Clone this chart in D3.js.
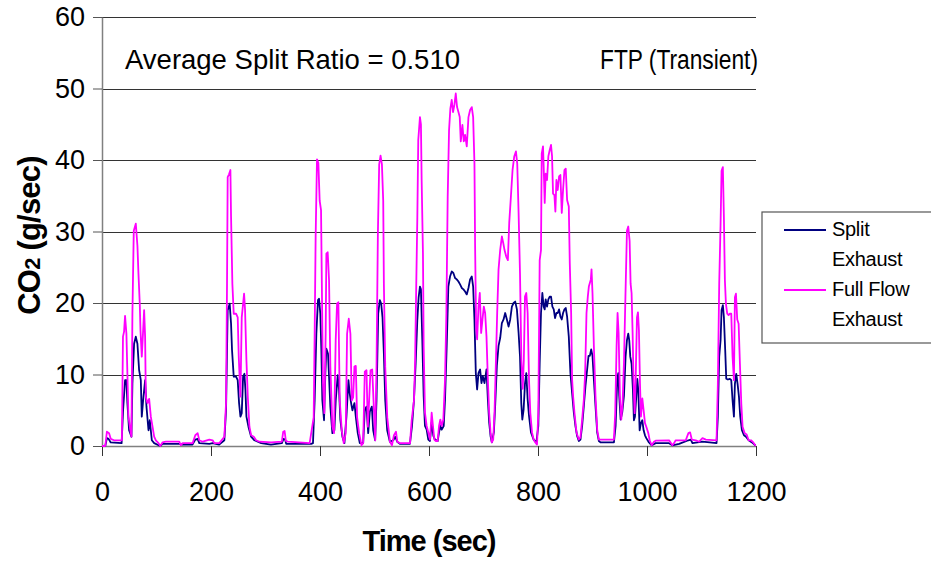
<!DOCTYPE html>
<html>
<head>
<meta charset="utf-8">
<script src="https://cdn.jsdelivr.net/npm/d3@7"></script>
<style>
  body { margin: 0; background: #fff; }
  svg { display: block; font-family: "Liberation Sans", Arial, sans-serif; }
</style>
</head>
<body>
<svg id="chart" width="931" height="562"></svg>
<script>
// Time (sec), CO2 (g/sec)
const splitExhaust = [
  [0,0],[6,0],[9,1.1],[12,1.0],[16,0.5],[36,0.4],[38.7,5.0],[42.3,9.2],[44.8,9.2],[46.6,6.0],
  [49.7,2.2],[54,1.3],[55.8,8.7],[58.9,14.3],[62,15.3],[65,14.3],[68.1,10.6],[71.2,9.2],[73,4.1],
  [75.5,6.4],[79.1,9.2],[81.6,5.5],[85.3,2.2],[87.7,3.6],[91.4,0.8],[95.7,0.4],[106.8,0],[111,0.3],
  [141.7,0.3],[147.9,0.2],[166,0.2],[171.2,0.9],[175.5,1.0],[178.5,0.4],[197,0.3],[203,0.4],[215,0.2],
  [224.5,0.8],[227.6,5],[230.6,19],[234.3,19.9],[236.8,17.1],[238.6,13.4],[241.7,9.7],[246,9.7],
  [249,9.2],[251.5,6],[254,4.1],[256.4,4.6],[258.9,9.7],[261.3,10.1],[263.2,7.8],[265,4.1],[268.7,2.7],
  [273.6,1.3],[279.7,0.8],[292,0.4],[310,0.2],[330,0.4],[333,1.0],[336,0.9],[338,0.3],[384,0.3],
  [387.1,0.4],[390.2,6.4],[393.3,15.7],[396.3,20.4],[398.2,20.6],[400.6,18.5],[402.5,13.4],[404.3,6.4],
  [407.4,3.6],[409.8,10.1],[411.7,13.6],[414.7,12.9],[416.6,9.7],[419,5.5],[422.7,1.8],[426.4,2.2],
  [428.9,6.4],[432.5,9.9],[435,7.8],[437.4,3.6],[441.1,1.3],[444.8,0.4],[448.5,4.1],[452.2,9.2],
  [454.6,7.3],[457.1,6.0],[459.5,5.0],[463.2,6.0],[465.7,4.1],[469.3,1.8],[473,0.4],[479.2,0.4],
  [482.2,5.0],[485.3,5.5],[488.4,1.8],[491.4,4.8],[495.1,5.5],[497.6,2.2],[501.2,0.8],[503.7,6.4],
  [506.8,18.5],[509.8,20.4],[512.3,19.9],[514.7,18],[517.2,12.9],[519.7,6.4],[523.3,2.2],[528.2,0.6],
  [534.4,0.8],[538,1.3],[541.7,0.6],[546.6,0.3],[565,0.3],[568.7,2.7],[572.4,6.4],[575.5,11.5],
  [578.5,17.5],[581,20.8],[583.4,22.3],[585.2,21.9],[587.7,14.9],[590.2,7],[592.6,2.8],[595.7,2.3],
  [598.7,0.9],[601.8,0.7],[604.9,3.3],[608,1.4],[611,0.9],[615.9,0.7],[618.4,1.9],[620.8,2.8],
  [623.3,2.3],[627,2.8],[629.4,6.5],[632.5,14],[635.5,22.3],[638.6,23.7],[641.7,24.4],[644.7,24.2],
  [647.8,23.5],[650.9,23.3],[654,23],[657,22.6],[660.1,22.1],[663.2,21.9],[666.2,21.6],[669.3,21.2],
  [672.4,22.1],[675.4,23.3],[678.5,23.7],[681,22.3],[683.4,17.7],[685.9,10.2],[688.3,7.9],[690.8,10.2],
  [693.8,10.7],[696.3,8.8],[698.7,9.8],[701.8,8.8],[705.5,10.7],[708,6.5],[710.4,3.3],[712.9,1.4],
  [715.3,0.5],[719,1.9],[721.4,5.6],[724.5,11.2],[727.6,14],[730.6,15.1],[733.7,17.2],[736.8,17.7],
  [739.8,18.6],[742.9,17.7],[746,16.7],[749,17.7],[752.1,19.5],[755.2,20],[758.2,20.2],[761.3,19.1],
  [764.4,15.8],[767,12.5],[769.3,6],[771.2,3.7],[773.6,5.1],[776.1,8.7],[778.5,10.2],[781,6.5],
  [783.5,4.2],[787.1,1.9],[792,0.9],[797,0.5],[800.6,2.8],[803.1,11.6],[805.5,18.6],[808,21.4],
  [810.4,19.5],[812.3,19.1],[814.1,20.5],[816.6,19.5],[819,20.5],[821.5,20.9],[823.9,20.9],[826.4,19.5],
  [828.9,19.1],[831.3,17.9],[833.8,18.6],[836.2,18.6],[838.7,19.1],[841.1,18.1],[843.6,17.7],[846,18.6],
  [848.5,19.1],[850.9,19.3],[853.4,18.1],[856.5,15.3],[859.5,10.2],[862.6,7.4],[865.7,4.7],[868.7,2.8],
  [871.8,1.4],[874.9,0.7],[877.9,0.9],[881,2.8],[884.1,5.6],[887.1,8.4],[890.2,10.7],[892.7,12.6],
  [895.1,12.6],[897.6,13.5],[900,12.6],[902.5,9.3],[905.5,5.6],[908.6,1.9],[911.7,0.7],[914.7,0.5],
  [939.3,0.5],[942.4,2.8],[945.4,9.3],[947.3,10.2],[949.1,7],[951.6,3.7],[954.6,4.7],[957.7,7],
  [960.7,12.5],[963.2,14.8],[965.6,15.7],[967.4,14.8],[969.3,12.5],[971.7,11.5],[974.2,7.8],[976,3.6],
  [977.9,4.1],[980.3,6.9],[982.2,9.4],[984,7.8],[986.5,2.2],[988.9,3.2],[991.4,3.6],[993.8,2.2],
  [996.3,1.5],[998.7,1.1],[1003.6,0.5],[1008.6,0.1],[1015.9,0.4],[1040.5,0.4],[1046.6,0.1],[1058.9,0.3],
  [1076,0.8],[1080.3,0.9],[1083.4,0.4],[1101.8,0.6],[1127.6,0.4],[1130,4.1],[1132.5,12.5],[1135,14.8],
  [1136.8,19],[1139.2,19.7],[1141.1,18],[1143.5,13.4],[1145.4,9.4],[1148.4,9.3],[1152.1,9.4],[1154.6,9.2],
  [1157,6.4],[1159.5,4.1],[1161.3,8.7],[1163.8,10.1],[1166.2,8.7],[1168.7,6.9],[1171.1,4.1],[1174.2,2.2],
  [1177.9,1.5],[1181.6,1.3],[1186.5,0.8],[1192.6,0.5],[1198.7,0.1],[1200,0.1]
];

const fullFlowExhaust = [
  [0,0],[6,0],[9,2.0],[13,1.8],[16,1.0],[22,0.8],[36.5,0.8],[38.5,15.3],[40.5,16],[42.3,18.2],
  [44.8,15.7],[48.5,4.1],[52.8,1.8],[54,1.3],[55.8,18.5],[58.3,30.1],[62,31.1],[65,28],[66.9,24.1],
  [69.3,19.9],[70.6,16.2],[73,12.5],[75.5,16.2],[77.3,19],[79.1,15.3],[80.4,6.9],[83.4,6],[86.5,6.6],
  [89.6,4.1],[92.7,2.7],[95.7,1.3],[98.8,0.8],[103.7,0.4],[106.8,0],[111,0.5],[117.2,0.6],[141.7,0.6],
  [144.8,0.1],[147.9,0.4],[166.3,0.4],[171.2,1.5],[175.5,1.8],[178.5,0.8],[184.7,0.6],[196.9,0.9],
  [203,0.8],[206,0.4],[215.3,0.4],[224.5,1.3],[227.6,6],[229.4,22.7],[230.6,37.6],[233.1,38],
  [235.6,38.6],[236.8,32.1],[239.2,22.7],[241.7,18.5],[246,18.5],[249,18.0],[250.9,12.5],[254,6.9],
  [256.4,18.0],[258.9,19.9],[260.7,21.3],[262.5,19],[265,12],[267.5,6.9],[270.5,2.7],[273.6,1.5],
  [278.5,1.3],[282.8,0.8],[288.9,0.6],[310.4,0.5],[330,0.6],[332.5,2.0],[335,2.1],[337.4,0.7],
  [341,0.6],[381,0.4],[388.4,4.0],[390.2,15.7],[392,29.2],[394.5,40.1],[397,39.6],[399.4,34.3],
  [401.9,33.0],[403.7,20.4],[405.5,8.7],[408,4.6],[410.4,15.7],[411.7,26.9],[414.1,27.1],[416.6,23.2],
  [419,11.1],[422.7,2.7],[425.7,1.8],[428.8,14.8],[431.3,19.9],[433.7,20.1],[436.2,6.4],[439.9,2.2],
  [443.6,0.4],[447.2,1.8],[449.7,15.7],[452.8,17.8],[455.8,15.7],[458.3,6.4],[460.8,6.8],[463.2,11.1],
  [465.7,11.2],[468.1,4.0],[471.8,1.8],[476.1,0.1],[479.2,0.4],[482.2,10.4],[485.3,10.6],[487.8,2.7],
  [490.2,6.4],[492.7,10.6],[495.8,10.7],[498.2,6.4],[501.3,0.8],[503.7,11.1],[506.2,29.7],[508.6,39.4],
  [511.1,40.6],[513.6,39.4],[516,34.3],[517.2,22.7],[519.7,11.1],[523.4,4.0],[528.3,0.6],[532,0.1],
  [535.7,1.5],[539.4,2.0],[541.8,0.6],[546.7,0.4],[565.2,0.4],[568.2,3.6],[572.5,6.4],[574.5,12],
  [576.5,22],[578.6,32],[580.3,42.8],[583.4,46],[585.2,45],[586.5,37.2],[588.9,27],[590.2,14],
  [592.6,4.65],[595.7,2.8],[598.7,1.9],[601.8,0.9],[604.9,4.65],[607.3,2.8],[609.8,0.9],[612.2,0.7],
  [615.9,0.7],[618.4,2.8],[620.8,3.7],[623.3,2.8],[626.3,3.7],[629.4,9.3],[631.9,18.6],[634.3,34.9],
  [636.8,44.2],[639.2,47.2],[641.7,48.4],[644.1,46.7],[646.6,47.7],[649.1,49.3],[651.5,47.4],[654,46.7],
  [656.4,46],[658.3,42.6],[661.3,44.9],[663.8,42.6],[666.2,43.5],[669.3,41.9],[672.4,46],[675.4,47],
  [678.5,47.4],[681,46],[683.4,39.5],[684.6,27.9],[686.5,16.3],[688.3,14.9],[690.8,19.5],[693.2,21.4],
  [695.7,15.8],[698.1,17.7],[700.6,19.5],[703,18.6],[705.5,15.3],[708,9.3],[710.4,4.65],[712.9,1.9],
  [715.3,0.5],[717.8,0.9],[720.2,4.65],[722.7,11.6],[725.1,18.6],[727.6,24.7],[730.6,27.4],[733.7,29.3],
  [736.2,28.4],[738.6,27.4],[741.7,26.5],[744.7,26],[747.2,31.2],[750.3,34.9],[753.3,38.6],[756.4,40.5],
  [759.5,41.2],[761.9,39.5],[764.4,32.6],[767,24],[769.5,12],[772,8],[774,12],[776.1,20.9],[778.5,21.4],
  [781,18.6],[783.5,9.3],[785.9,4.65],[789,1.9],[792,0.9],[795.1,0.5],[798.2,0.2],[800.6,4.65],
  [803.1,26],[805.5,27.4],[806.8,40.9],[809.2,41.9],[810.4,39.1],[812.3,34],[814.1,38.1],[816.6,37.2],
  [819,40.5],[821.5,41.4],[823.9,42.1],[825.8,40.5],[827.6,35.3],[830.1,35.1],[831.9,32.8],[833.8,37.2],
  [836.2,35.8],[838.7,37.7],[841.1,37.9],[843.6,32.6],[846,35.8],[848.5,38.6],[850.9,38.8],[853.4,34.4],
  [856.5,33.5],[858.3,25.6],[860.8,18.6],[862.6,9.3],[864.4,7],[866.9,4.65],[870.6,1.9],[874.9,0.9],
  [877.9,1.2],[881,3.7],[884.1,6.5],[886.5,10.2],[889,18.6],[891.4,20.9],[893.3,22.3],[895.1,22.8],
  [897,23.3],[898.2,24.7],[900,21.4],[902.5,14],[905.5,7],[908.6,2.3],[911.7,0.9],[939.3,0.9],
  [941.7,4.65],[944.2,14],[946,18.6],[947.9,15.8],[950.3,7],[952.8,3.7],[955.2,6],[957.7,11.6],
  [960.4,20.8],[963.2,30.1],[965.6,30.7],[968.1,28.7],[969.9,22.7],[971.7,21.4],[973.6,15.8],[975.4,8.8],
  [977.3,4.6],[979.1,8.8],[981.6,18],[983.4,18.7],[985.2,16.2],[987.1,8.8],[988.9,4.1],[991.4,6.65],
  [993.8,5],[996.3,3.2],[998.7,2.7],[1002.4,1.8],[1004.9,0.8],[1008.6,0.1],[1012.8,0.6],[1015.9,0.75],
  [1040.5,0.8],[1046.6,0.1],[1049.7,0.4],[1052.7,0.8],[1071.1,0.8],[1076,1.8],[1079.1,1.9],[1082.2,0.9],
  [1089.5,0.8],[1095.7,0.6],[1101.8,1.1],[1108,0.9],[1127.6,0.8],[1130,8.7],[1132.5,22.7],[1135,31],
  [1136.8,38.5],[1139.2,39],[1141.1,32],[1142.9,23.2],[1144.8,19.9],[1147.2,18.5],[1149.7,18.3],
  [1152.1,18.5],[1154.6,18.5],[1157,12.5],[1159.5,9.2],[1161.3,20.8],[1163.2,21.3],[1165.6,17.7],
  [1168.1,17.1],[1170.5,11.5],[1173,5.95],[1175.4,2.7],[1179.1,1.8],[1182.8,1.6],[1186.5,0.8],
  [1190.8,0.8],[1195,0.5],[1198.7,0.1],[1200,0.1]
];

const xTicks = [0, 200, 400, 600, 800, 1000, 1200];
const yTicks = [0, 10, 20, 30, 40, 50, 60];
const seriesNames = ["Split\nExhaust", "Full Flow\nExhaust"];
const seriesColors = ["#000080", "#ff00ff"];

// Plot Area
const plotLeft = 102, plotRight = 756, plotTop = 17, plotBottom = 446;
const svg = d3.select("#chart");

const x = d3.scaleLinear().domain([0, 1200]).range([plotLeft, plotRight]);
const y = d3.scaleLinear().domain([0, 60]).range([plotBottom, plotTop]);

// Horizontal gridlines
svg.append("g")
  .attr("transform", `translate(${plotLeft},0)`)
  .call(d3.axisLeft(y).tickValues(yTicks).tickSize(-(plotRight - plotLeft)).tickFormat(""))
  .call((g) => g.select(".domain").remove())
  .call((g) => g.selectAll(".tick line").attr("stroke", "#333").attr("shape-rendering", "crispEdges"));

// Y axis
const yAxis = svg.append("g")
  .attr("transform", `translate(${plotLeft},0)`)
  .call(d3.axisLeft(y).tickValues(yTicks).tickSize(9).tickPadding(8).tickSizeOuter(0));
yAxis.select(".domain").attr("stroke", "#808080").attr("stroke-width", 1.5);
yAxis.selectAll(".tick line").attr("stroke", "#555");
yAxis.selectAll("text").attr("font-size", 27).attr("fill", "#000")
  .attr("font-family", "Liberation Sans, Arial, sans-serif");

// X axis
const xAxis = svg.append("g")
  .attr("transform", `translate(0,${plotBottom})`)
  .call(d3.axisBottom(x).tickValues(xTicks).tickFormat(d3.format("d"))
    .tickSize(10).tickPadding(26).tickSizeOuter(0));
xAxis.select(".domain").attr("stroke", "#808080").attr("stroke-width", 1.5);
xAxis.selectAll(".tick line").attr("stroke", "#333");
xAxis.selectAll("text").attr("font-size", 27).attr("fill", "#000")
  .attr("font-family", "Liberation Sans, Arial, sans-serif");

// Lines
const line = d3.line().x((d) => x(d[0])).y((d) => y(d[1]));
[splitExhaust, fullFlowExhaust].forEach((data, i) => {
  svg.append("path")
    .datum(data)
    .attr("fill", "none")
    .attr("stroke", seriesColors[i])
    .attr("stroke-width", 1.8)
    .attr("stroke-linejoin", "round")
    .attr("d", line);
});

// Annotations
svg.append("text")
  .attr("x", 125).attr("y", 69)
  .attr("font-size", 28)
  .attr("textLength", 335).attr("lengthAdjust", "spacingAndGlyphs")
  .text("Average Split Ratio = 0.510");
svg.append("text")
  .attr("x", 600).attr("y", 69)
  .attr("font-size", 27)
  .attr("textLength", 158).attr("lengthAdjust", "spacingAndGlyphs")
  .text("FTP (Transient)");

// Axis Titles
svg.append("text")
  .attr("x", (plotLeft + plotRight) / 2).attr("y", 551)
  .attr("text-anchor", "middle")
  .attr("font-size", 29).attr("font-weight", "bold").attr("letter-spacing", -1)
  .text("Time (sec)");

const yTitle = svg.append("text")
  .attr("transform", `translate(40,${(plotTop + plotBottom) / 2 + 4}) rotate(-90)`)
  .attr("text-anchor", "middle")
  .attr("font-size", 31).attr("font-weight", "bold").attr("letter-spacing", -0.8);
yTitle.append("tspan").text("CO");
yTitle.append("tspan").attr("font-size", 22).text("2");
yTitle.append("tspan").text(" (g/sec)");

// Legend
const legend = svg.append("g").attr("transform", "translate(762,212)");
legend.append("rect")
  .attr("width", 200).attr("height", 131)
  .attr("fill", "#fff").attr("stroke", "#555").attr("stroke-width", 1.2);
seriesNames.forEach((name, i) => {
  const row = legend.append("g").attr("transform", `translate(0,${18 + i * 60})`);
  row.append("line")
    .attr("x1", 22).attr("x2", 64)
    .attr("stroke", seriesColors[i]).attr("stroke-width", 1.8);
  name.split("\n").forEach((part, j) => {
    row.append("text")
      .attr("x", 70).attr("y", 6 + j * 30)
      .attr("font-size", 20).attr("letter-spacing", -0.3)
      .text(part);
  });
});
</script>
</body>
</html>
